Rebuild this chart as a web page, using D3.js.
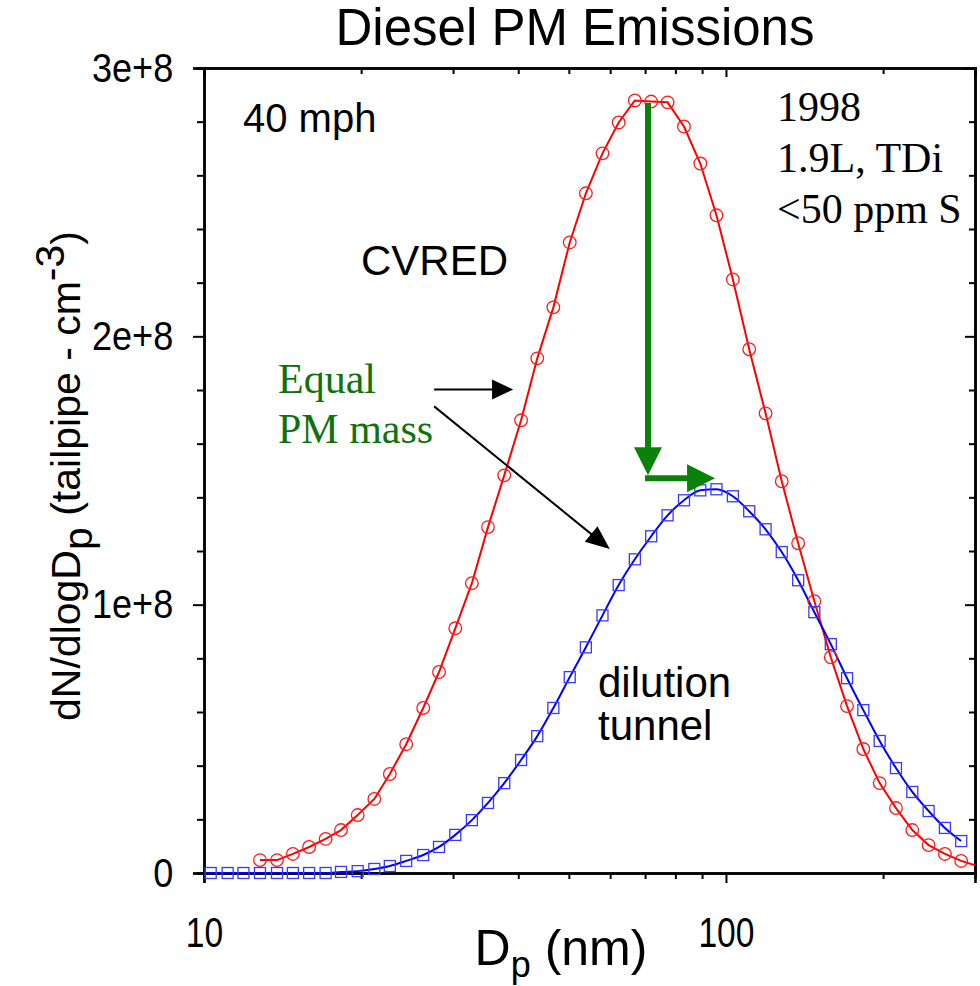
<!DOCTYPE html>
<html>
<head>
<meta charset="utf-8">
<script src="https://cdn.jsdelivr.net/npm/d3@7"></script>
<style>
  body { margin: 0; background: #fff; }
  svg { display: block; }
  text { font-family: "Liberation Sans", Arial, sans-serif; }
  .serif { font-family: "Liberation Serif", "Times New Roman", serif; }
</style>
</head>
<body>
<div id="chart"></div>
<script>
// particle diameter (nm) and dN/dlogDp (x1e6 per cm3)
const cvredD = [12.8, 13.8, 14.8, 15.9, 17.1, 18.3, 19.7, 21.2, 22.7, 24.4, 26.3, 28.2, 30.3, 32.6, 35.0, 37.6, 40.5, 43.5, 46.7, 50.2, 53.9, 58.0, 62.3, 66.9, 71.9, 77.3, 83.1, 89.3, 95.9, 103.1, 110.8, 119.1, 127.9, 137.5, 147.7, 158.8, 170.6, 183.3, 197.0, 211.7, 227.5, 244.5, 262.7, 282.3, 303.4];
const cvredN = [4.8, 4.8, 7.1, 9.7, 12.7, 16.0, 21.6, 27.6, 36.9, 48.0, 61.5, 74.9, 91.2, 108.0, 128.9, 148.2, 168.7, 191.8, 210.8, 235.0, 253.3, 268.2, 279.7, 287.9, 287.5, 287.2, 278.2, 264.4, 245.1, 221.2, 195.2, 171.3, 146.0, 122.9, 101.3, 80.4, 62.2, 46.2, 33.5, 24.2, 16.0, 10.4, 7.1, 4.5, 2.6];

const tunnelD = [9.6, 10.3, 11.1, 11.9, 12.8, 13.8, 14.8, 15.9, 17.1, 18.3, 19.7, 21.2, 22.7, 24.4, 26.3, 28.2, 30.3, 32.6, 35.0, 37.6, 40.5, 43.5, 46.7, 50.2, 53.9, 58.0, 62.3, 66.9, 71.9, 77.3, 83.1, 89.3, 95.9, 103.1, 110.8, 119.1, 127.9, 137.5, 147.7, 158.8, 170.6, 183.3, 197.0, 211.7, 227.5, 244.5, 262.7, 282.3];
const tunnelN = [0, 0, 0, 0, 0, 0, 0, 0, 0, 0.4, 0.7, 1.5, 2.6, 4.5, 6.7, 9.7, 14.2, 19.7, 26.1, 33.5, 42.1, 51.0, 61.5, 73.0, 84.1, 96.0, 107.3, 116.9, 125.5, 133.3, 138.9, 142.6, 143.0, 140.4, 134.8, 128.1, 119.6, 109.1, 97.2, 85.3, 72.6, 60.7, 49.2, 39.1, 30.2, 23.1, 16.8, 11.9];

const xMajor = [10, 100];
const xMinor = [20, 30, 40, 50, 60, 70, 80, 90, 200];
const yMajor = [0, 1e8, 2e8, 3e8];
const yMinor = [2e7, 4e7, 6e7, 8e7, 1.2e8, 1.4e8, 1.6e8, 1.8e8, 2.2e8, 2.4e8, 2.6e8, 2.8e8];

const width = 980, height = 986;
const margin = { left: 204, right: 5, top: 68, bottom: 113 };

const svg = d3.select("#chart").append("svg")
  .attr("width", width).attr("height", height);

const x = d3.scaleLog().domain([10, 300]).range([margin.left, width - margin.right]);
const y = d3.scaleLinear().domain([0, 3e8]).range([height - margin.bottom, margin.top]);

const cvred = cvredD.map((d, i) => ({ d: d, n: cvredN[i] * 1e6 }));
const tunnel = tunnelD.map((d, i) => ({ d: d, n: tunnelN[i] * 1e6 }));
const inside = p => p.d >= 10 && p.d <= 300;

svg.append("clipPath").attr("id", "plot")
  .append("rect")
  .attr("x", x.range()[0]).attr("y", y.range()[1])
  .attr("width", x.range()[1] - x.range()[0])
  .attr("height", y.range()[0] - y.range()[1]);

// axes
function styleAxis(g) {
  g.select(".domain").attr("stroke", "#000").attr("stroke-width", 2.5);
  g.selectAll(".tick line").attr("stroke", "#000").attr("stroke-width", 2);
}

const yFmt = d => d === 0 ? "0" : (d / 1e8) + "e+8";
const x0 = x.range()[0], x1 = x.range()[1], y0 = y.range()[0], y1 = y.range()[1];

svg.append("g").attr("transform", `translate(${x0},0)`)
  .call(d3.axisLeft(y).tickValues(yMinor).tickSize(7).tickFormat(""))
  .call(styleAxis);
svg.append("g").attr("transform", `translate(${x0},0)`)
  .call(d3.axisLeft(y).tickValues(yMajor).tickSize(11).tickPadding(24).tickFormat(yFmt))
  .call(styleAxis)
  .call(g => g.selectAll(".tick text")
    .attr("font-size", 41).attr("fill", "#000")
    .attr("font-family", "Liberation Sans, Arial, sans-serif")
    .attr("transform", "scale(0.88,1)"));

// right mirror (ticks point left)
svg.append("g").attr("transform", `translate(${x1},0)`)
  .call(d3.axisLeft(y).tickValues(yMinor).tickSize(6).tickFormat(""))
  .call(styleAxis);
svg.append("g").attr("transform", `translate(${x1},0)`)
  .call(d3.axisLeft(y).tickValues(yMajor).tickSize(10).tickFormat(""))
  .call(styleAxis);

// bottom
svg.append("g").attr("transform", `translate(0,${y0})`)
  .call(d3.axisBottom(x).tickValues(xMinor).tickSize(6).tickFormat(""))
  .call(styleAxis);
svg.append("g").attr("transform", `translate(0,${y0})`)
  .call(d3.axisBottom(x).tickValues(xMajor).tickSize(10).tickPadding(34).tickFormat(d3.format("d")))
  .call(styleAxis)
  .call(g => g.selectAll(".tick text")
    .attr("font-size", 42).attr("fill", "#000")
    .attr("font-family", "Liberation Sans, Arial, sans-serif")
    .attr("transform", "scale(0.8,1)"));

// top mirror (ticks point down)
svg.append("g").attr("transform", `translate(0,${y1})`)
  .call(d3.axisBottom(x).tickValues(xMinor).tickSize(6).tickFormat(""))
  .call(styleAxis);
svg.append("g").attr("transform", `translate(0,${y1})`)
  .call(d3.axisBottom(x).tickValues(xMajor).tickSize(9).tickFormat(""))
  .call(styleAxis);

// curves
const plot = svg.append("g").attr("clip-path", "url(#plot)");

plot.append("path").datum(cvred)
  .attr("fill", "none").attr("stroke", "#ff0000").attr("stroke-width", 2)
  .attr("d", d3.line().x(d => x(d.d)).y(d => y(d.n)));

plot.append("path").datum(tunnel)
  .attr("fill", "none").attr("stroke", "#0000ff").attr("stroke-width", 2)
  .attr("d", d3.line().curve(d3.curveMonotoneX).x(d => x(d.d)).y(d => y(d.n)));

svg.append("g").selectAll("circle")
  .data(cvred.filter(inside))
  .join("circle")
  .attr("cx", d => x(d.d)).attr("cy", d => y(d.n)).attr("r", 6.3)
  .attr("fill", "none").attr("stroke", "#ff1a1a").attr("stroke-width", 1.3);

svg.append("g").selectAll("rect")
  .data(tunnel.filter(inside))
  .join("rect")
  .attr("x", d => x(d.d) - 5.5).attr("y", d => y(d.n) - 5.5)
  .attr("width", 11).attr("height", 11)
  .attr("fill", "none").attr("stroke", "#3a3aff").attr("stroke-width", 1.3);

// arrows
function arrow(xa, ya, xb, yb, color, lw, len, half) {
  const dx = xb - xa, dy = yb - ya, L = Math.hypot(dx, dy);
  const ux = dx / L, uy = dy / L;
  const bx = xb - ux * len, by = yb - uy * len;
  svg.append("line")
    .attr("x1", xa).attr("y1", ya).attr("x2", bx + ux).attr("y2", by + uy)
    .attr("stroke", color).attr("stroke-width", lw);
  svg.append("polygon")
    .attr("points", [[xb, yb], [bx - uy * half, by + ux * half], [bx + uy * half, by - ux * half]].join(" "))
    .attr("fill", color);
}

const green = "#0a820a";
arrow(x(70.9), y(2.87e8), x(70.9), y(1.482e8), green, 6, 28, 14);
arrow(x(70.9) - 3, y(1.471e8), x(95.3), y(1.471e8), green, 6, 28, 14);
arrow(x(27.6), y(1.802e8), x(39.1), y(1.802e8), "#000", 2, 21, 10);
arrow(x(27.6), y(1.739e8), x(59.9), y(1.207e8), "#000", 2, 24, 10);

// texts
svg.append("text").attr("x", 575).attr("y", 45)
  .attr("text-anchor", "middle").attr("font-size", 51).text("Diesel PM Emissions");

svg.append("text").attr("x", 243).attr("y", 132).attr("font-size", 40).text("40 mph");
svg.append("text").attr("x", 361).attr("y", 275).attr("font-size", 42).text("CVRED");

const dil = svg.append("text").attr("font-size", 42);
dil.append("tspan").attr("x", 598).attr("y", 697).text("dilution");
dil.append("tspan").attr("x", 598).attr("y", 740).text("tunnel");

const info = svg.append("text").attr("class", "serif").attr("font-size", 42);
["1998", "1.9L, TDi", "<50 ppm S"].forEach((s, i) =>
  info.append("tspan").attr("x", 777).attr("y", 121 + i * 51).text(s));

const eq = svg.append("text").attr("class", "serif").attr("font-size", 42).attr("fill", "#0e720e");
eq.append("tspan").attr("x", 278).attr("y", 393).text("Equal");
eq.append("tspan").attr("x", 278).attr("y", 443).text("PM mass");

// axis titles
const xt = svg.append("text").attr("x", 561).attr("y", 965)
  .attr("text-anchor", "middle").attr("font-size", 50);
xt.append("tspan").text("D");
xt.append("tspan").attr("dy", 12).attr("font-size", 36).text("p");
xt.append("tspan").attr("dy", -12).text(" (nm)");

const yt = svg.append("text").attr("transform", "translate(80,476) rotate(-90)")
  .attr("text-anchor", "middle").attr("font-size", 41);
yt.append("tspan").text("dN/dlogD");
yt.append("tspan").attr("dy", 12).text("p");
yt.append("tspan").attr("dy", -12).text(" (tailpipe - cm");
yt.append("tspan").attr("dy", -16).text("-3");
yt.append("tspan").attr("dy", 16).text(")");
</script>
</body>
</html>
